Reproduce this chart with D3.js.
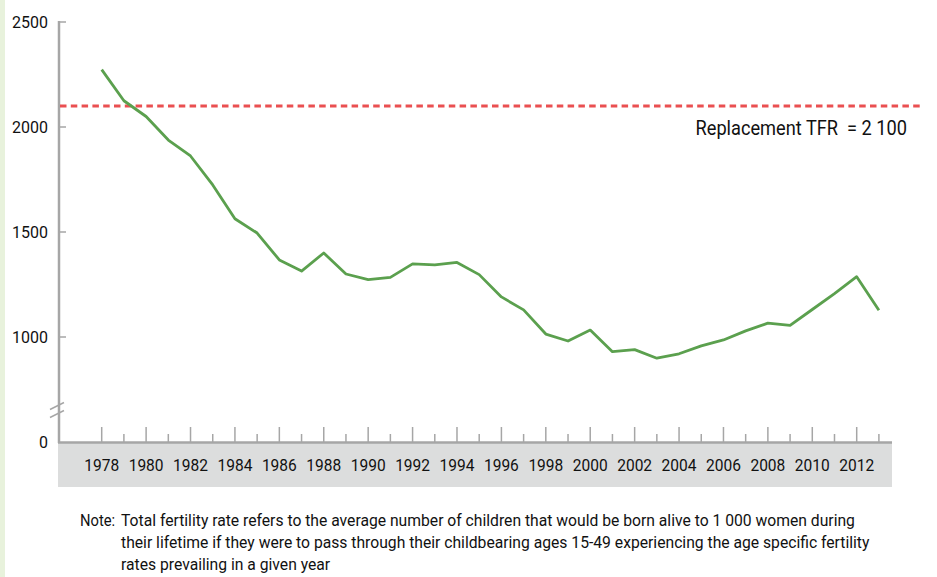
<!DOCTYPE html>
<html>
<head>
<meta charset="utf-8">
<script src="https://cdn.jsdelivr.net/npm/d3@7"></script>
<style>
  body { margin: 0; background: #fff; }
  svg text { font-family: Roboto, "Liberation Sans", sans-serif; fill: #111; white-space: pre; }
</style>
</head>
<body>
<div id="chart"></div>
<script>
// data
var years = d3.range(1978, 2014);
var tfr = [2273, 2125, 2050, 1938, 1862, 1724, 1563, 1495, 1367, 1314,
           1400, 1300, 1273, 1284, 1348, 1343, 1355, 1297, 1191, 1129,
           1014, 981, 1033, 930, 940, 899, 920, 958, 986, 1029,
           1066, 1055, 1131, 1207, 1287, 1127];
var yTicks = [0, 1000, 1500, 2000, 2500];
var xLabels = d3.range(1978, 2013, 2);
var replacement = 2100;
var noteLines = [
  "Total fertility rate refers to the average number of children that would be born alive to 1 000 women during",
  "their lifetime if they were to pass through their childbearing ages 15-49 experiencing the age specific fertility",
  "rates prevailing in a given year"
];

var W = 937, H = 577,
    axisX = 59, y0 = 442, yTop = 22;

var svg = d3.select("#chart").append("svg")
    .attr("width", W)
    .attr("height", H);

// narrow the text horizontally to imitate the condensed face of the original
function condense(k) {
    return function(sel) {
        sel.each(function() {
            var w = this.getComputedTextLength();
            d3.select(this).attr("textLength", w * k).attr("lengthAdjust", "spacingAndGlyphs");
        });
    };
}

// pale green strip on the left edge
svg.append("rect").attr("x", 0).attr("y", 0).attr("width", 5).attr("height", H)
    .attr("fill", "#e8f2dc");

var x = d3.scaleLinear().domain([1978, 2012]).range([101.7, 856.7]);

// upper part is linear from 1000 to 2500, lower part squeezed below the break
var upper = d3.scaleLinear().domain([1000, 2500]).range([337, yTop]);
var breakVal = 650;
var y = d3.scaleLinear().domain([0, breakVal, 2500]).range([y0, upper(breakVal), yTop]);

// grey band under x axis
svg.append("rect")
    .attr("x", axisX - 1).attr("y", y0).attr("width", 892 - axisX + 1).attr("height", 45)
    .attr("fill", "#dcdddd");

// x ticks
svg.append("g").selectAll("line")
    .data(years)
    .enter().append("line")
    .attr("x1", function(d) { return x(d); })
    .attr("x2", function(d) { return x(d); })
    .attr("y1", function(d) { return d % 2 === 0 ? y0 - 15 : y0 - 8; })
    .attr("y2", y0)
    .attr("stroke", "#a6a6a6")
    .attr("stroke-width", 1.5);

// x baseline
svg.append("line")
    .attr("x1", axisX - 1).attr("x2", 892)
    .attr("y1", y0 + 0.5).attr("y2", y0 + 0.5)
    .attr("stroke", "#a6a6a6").attr("stroke-width", 2.5);

svg.append("g").selectAll("text")
    .data(xLabels)
    .enter().append("text")
    .attr("x", function(d) { return x(d); })
    .attr("y", 471)
    .attr("text-anchor", "middle")
    .style("font-size", "16.5px")
    .text(function(d) { return d; })
    .call(condense(0.94));

// y axis
svg.append("line")
    .attr("x1", axisX).attr("x2", axisX)
    .attr("y1", yTop - 1).attr("y2", y0 + 1)
    .attr("stroke", "#a6a6a6").attr("stroke-width", 2.5);

var yt = svg.append("g").selectAll("g")
    .data(yTicks)
    .enter().append("g")
    .attr("transform", function(d) { return "translate(0," + y(d) + ")"; });

yt.filter(function(d) { return d > 0; }).append("line")
    .attr("x1", axisX).attr("x2", axisX + 7)
    .attr("stroke", "#a6a6a6").attr("stroke-width", 1.5);

yt.append("text")
    .attr("x", 48)
    .attr("dy", "0.36em")
    .attr("text-anchor", "end")
    .style("font-size", "17px")
    .text(function(d) { return d; })
    .call(condense(0.94));

// axis break marks
var yb = upper(breakVal);
[-4, 4].forEach(function(o) {
    svg.append("line")
        .attr("x1", axisX - 9).attr("y1", yb + o + 3)
        .attr("x2", axisX + 5).attr("y2", yb + o - 4)
        .attr("stroke", "#a6a6a6").attr("stroke-width", 1.5);
});

// replacement level
svg.append("line")
    .attr("x1", axisX + 1).attr("x2", 923)
    .attr("y1", y(replacement)).attr("y2", y(replacement))
    .attr("stroke", "#ea4f51").attr("stroke-width", 3)
    .attr("stroke-dasharray", "6.5,4.3");

svg.append("text")
    .attr("x", 907).attr("y", 135)
    .attr("text-anchor", "end")
    .style("font-size", "20px")
    .text("Replacement TFR  = 2 100")
    .call(condense(0.91));

// TFR line
var line = d3.line()
    .x(function(d, i) { return x(years[i]); })
    .y(function(d) { return y(d); });

svg.append("path")
    .datum(tfr)
    .attr("d", line)
    .attr("fill", "none")
    .attr("stroke", "#5ba04e")
    .attr("stroke-width", 2.8)
    .attr("stroke-linejoin", "round");

// note
svg.append("text").attr("x", 80).attr("y", 526).style("font-size", "16px").text("Note:").call(condense(0.92));
svg.append("g").selectAll("text")
    .data(noteLines)
    .enter().append("text")
    .attr("x", 121)
    .attr("y", function(d, i) { return 526 + i * 22; })
    .style("font-size", "16px")
    .text(function(d) { return d; })
    .call(condense(0.98));
</script>
</body>
</html>
